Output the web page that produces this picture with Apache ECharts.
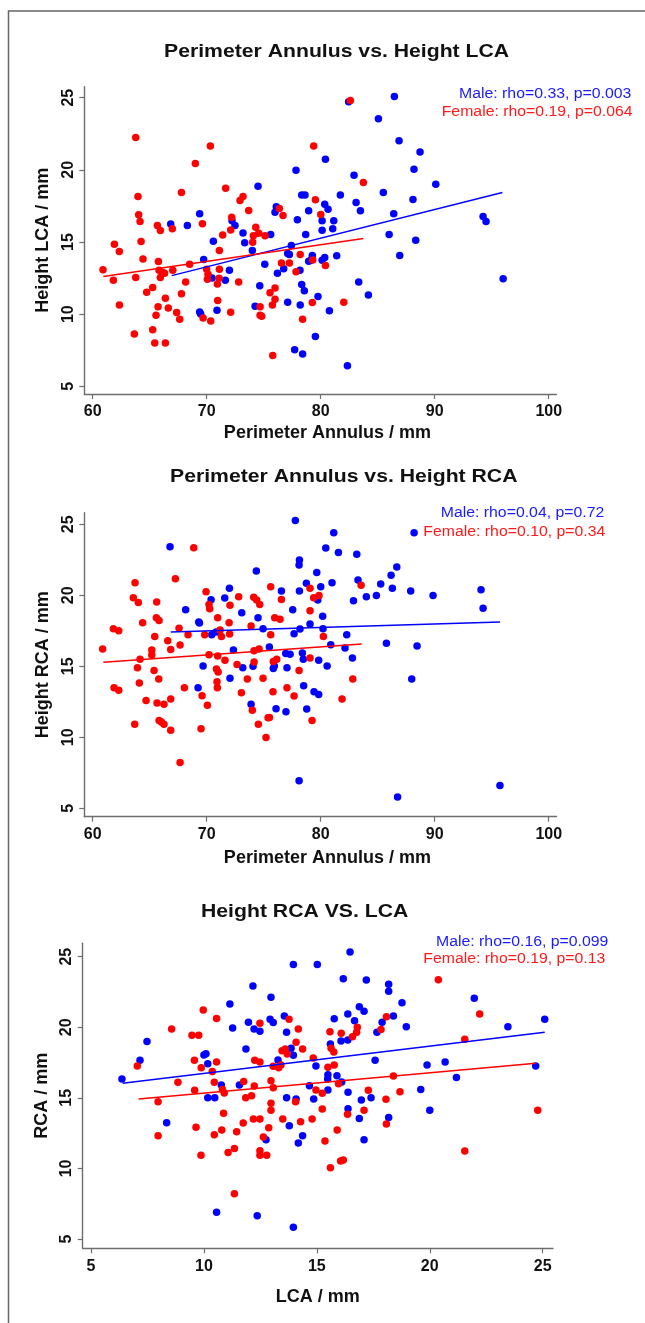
<!DOCTYPE html>
<html><head><meta charset="utf-8">
<script src="https://cdn.jsdelivr.net/npm/echarts@6/dist/echarts.min.js"></script>
<style>html,body{margin:0;padding:0;background:#fff}#c{width:645px;height:1323px}</style>
</head><body><div id="c"></div>
<script>
// ---------- DATA ----------
const titles = ['Perimeter Annulus vs. Height LCA', 'Perimeter Annulus vs. Height RCA', 'Height RCA VS. LCA'];
const xNames = ['Perimeter Annulus / mm', 'Perimeter Annulus / mm', 'LCA / mm'];
const yNames = ['Height LCA / mm', 'Height RCA / mm', 'RCA / mm'];
const xTicksPA = [60, 70, 80, 90, 100];
const xTicksLCA = [5, 10, 15, 20, 25];
const yTicks = [5, 10, 15, 20, 25];
const maleStats = ['Male: rho=0.33, p=0.003', 'Male: rho=0.04, p=0.72', 'Male: rho=0.16, p=0.099'];
const femaleStats = ['Female: rho=0.19, p=0.064', 'Female: rho=0.10, p=0.34', 'Female: rho=0.19, p=0.13'];

// Panel 1: Perimeter Annulus (x) vs Height LCA (y)
const p1Male = [[77.83,19.97],[74.5,18.86],[78.33,18.26],[78.62,18.26],[76.1,17.45],[75.99,17.07],[78.94,17.17],[69.38,16.96],[66.84,16.24],[68.3,16.14],[72.22,16.47],[72.48,16.14],[77.95,16.54],[73.18,15.63],[70.58,15.05],[73.33,14.94],[75.61,15.52],[78.68,15.52],[74.0,14.41],[77.42,14.75],[77.1,14.2],[77.25,14.13],[79.26,14.06],[78.94,13.66],[79.15,13.76],[69.73,13.79],[75.09,13.46],[71.99,13.05],[76.75,13.14],[76.2,12.84],[78.18,13.05],[70.46,12.51],[71.63,12.35],[74.65,11.96],[78.33,12.05],[78.56,11.63],[77.1,10.82],[78.2,10.64],[74.24,10.55],[70.9,10.27],[69.38,10.15],[69.47,10.01],[79.76,11.22],[79.53,8.45],[77.71,7.54],[78.41,7.24],
[82.45,24.72],[86.46,25.09],[85.06,23.54],[86.87,22.02],[88.71,21.23],[80.41,20.74],[88.18,20.05],[82.92,19.63],[90.09,19.01],[85.49,18.43],[81.72,18.25],[88.09,17.94],[83.1,17.74],[80.35,17.62],[80.64,17.27],[83.48,17.16],[86.4,16.95],[80.12,16.47],[81.14,16.47],[81.05,15.91],[80.12,15.82],[94.24,16.77],[94.5,16.42],[86.0,15.52],[88.33,15.12],[86.93,14.06],[81.4,14.04],[80.12,13.74],[80.35,13.92],[83.33,12.23],[96.0,12.46],[84.18,11.33],[80.76,10.24],[82.34,6.43]];
const p1Female = [[63.77,22.25],[70.32,21.65],[69.0,20.44],[71.66,18.73],[67.78,18.43],[63.97,18.16],[73.18,18.16],[72.92,17.88],[73.68,17.19],[64.03,16.89],[64.15,16.42],[72.19,16.72],[69.62,16.26],[65.67,16.14],[65.93,15.8],[66.98,15.91],[71.4,15.49],[72.1,15.84],[74.3,16.03],[74.09,15.43],[74.56,15.61],[75.11,15.43],[61.9,14.85],[64.24,15.03],[62.33,14.34],[74.03,14.99],[71.11,14.41],[64.41,13.83],[65.76,13.65],[68.5,13.46],[60.9,13.07],[65.82,13.05],[66.14,12.88],[67.02,13.05],[65.93,12.54],[66.3,12.84],[61.81,12.35],[63.77,12.54],[69.99,13.11],[70.11,12.77],[71.11,13.11],[70.06,12.42],[70.93,12.09],[71.08,12.49],[72.8,12.23],[68.15,12.23],[65.26,11.84],[64.73,11.52],[67.78,11.42],[66.37,11.1],[65.73,10.52],[65.55,9.92],[66.63,10.43],[67.36,10.11],[67.63,9.64],[70.96,10.94],[72.1,10.13],[62.34,10.64],[69.68,9.73],[70.35,9.52],[76.55,13.55],[77.25,13.55],[75.55,11.49],[75.99,11.81],[75.99,11.03],[75.76,10.64],[74.68,10.52],[74.68,9.92],[74.82,9.85],[78.2,14.13],[77.83,12.93],[79.26,10.8],[78.41,9.64],[65.26,8.92],[63.65,8.62],[65.44,8.0],[66.37,8.0],[75.79,7.14],[76.37,17.33],[76.69,16.84],[79.38,21.65],[79.53,17.93],
[82.6,24.81],[83.74,19.12],[80.0,16.9],[79.3,13.76],[80.41,13.37],[82.02,10.82]];
const p1MaleFit = [[66.93,12.67],[95.93,18.43]];
const p1FemaleFit = [[60.93,12.61],[83.74,15.24]];

// Panel 2: Perimeter Annulus (x) vs Height RCA (y)
const p2Male = [[77.77,25.26],[66.78,23.42],[74.35,21.71],[78.13,22.49],[78.1,22.13],[79.65,21.6],[78.74,20.84],[71.99,20.49],[76.55,20.3],[78.13,20.3],[70.38,19.69],[71.58,19.81],[79.74,19.67],[68.15,18.98],[73.07,18.77],[74.5,18.42],[77.54,18.98],[69.3,18.12],[69.36,18.05],[74.94,17.65],[78.18,17.63],[79.06,17.98],[70.44,17.22],[70.82,17.42],[77.66,17.29],[72.34,16.15],[75.49,16.36],[76.93,15.91],[77.31,15.84],[78.39,15.93],[78.47,15.49],[79.82,15.42],[69.68,15.02],[73.16,14.9],[74.06,15.0],[75.84,14.84],[75.93,15.02],[77.04,14.9],[72.04,14.15],[69.24,13.49],[78.5,13.63],[79.41,13.21],[79.82,13.02],[73.89,12.32],[76.08,12.01],[76.95,11.8],[78.77,11.99],[78.1,6.94],
[81.14,24.41],[88.19,24.41],[80.44,23.33],[81.55,23.02],[83.16,22.89],[86.67,21.99],[86.17,21.42],[80.0,20.6],[80.99,20.89],[83.27,21.08],[85.26,20.8],[86.28,20.49],[87.89,20.3],[84.0,19.9],[84.88,19.99],[89.85,19.99],[94.06,20.39],[94.24,19.08],[82.87,19.62],[80.17,18.52],[80.2,17.65],[82.28,17.23],[80.88,16.52],[82.13,16.29],[85.76,16.62],[88.45,16.43],[80.56,15.02],[82.78,15.58],[87.98,14.1],[86.74,5.8],[95.72,6.61]];
const p2Female = [[68.86,23.35],[67.25,21.17],[63.71,20.89],[69.94,20.25],[63.56,19.83],[64.0,19.5],[65.61,19.53],[75.61,20.6],[74.12,19.87],[74.38,19.67],[74.65,19.36],[72.8,19.9],[76.55,19.71],[72.04,19.3],[70.2,19.36],[70.26,19.06],[79.06,20.49],[79.38,19.83],[79.06,18.92],[65.58,18.42],[65.82,18.22],[64.38,18.07],[70.96,18.42],[71.96,18.07],[75.96,18.42],[76.43,18.31],[61.81,17.65],[62.28,17.51],[67.57,17.68],[68.36,17.23],[69.82,17.23],[71.17,17.56],[71.29,17.09],[72.01,17.27],[65.44,17.09],[73.89,17.84],[75.61,17.23],[66.58,16.8],[67.66,16.5],[66.84,16.19],[60.87,16.22],[65.18,16.15],[65.18,15.8],[64.15,15.49],[70.2,15.82],[70.96,15.73],[71.6,15.42],[72.66,15.13],[74.15,16.1],[74.59,16.21],[74.15,15.3],[75.84,15.33],[76.14,15.49],[79.06,15.59],[63.92,14.9],[65.38,14.71],[65.79,14.1],[64.09,13.82],[70.85,14.81],[71.0,14.6],[70.9,13.91],[70.93,13.49],[73.56,14.1],[74.94,14.15],[78.1,14.71],[61.87,13.49],[62.28,13.31],[68.04,13.49],[69.59,12.93],[70.06,12.25],[73.04,13.14],[75.81,13.21],[77.04,13.49],[77.66,12.91],[64.68,12.6],[65.64,12.41],[66.25,12.32],[66.84,12.7],[74.0,11.9],[75.38,11.38],[75.5,11.4],[74.53,10.91],[79.24,11.19],[63.68,10.91],[65.82,11.19],[66.02,11.08],[66.25,10.91],[66.84,10.49],[69.5,10.6],[75.2,9.99],[67.66,8.23],
[79.85,19.98],[83.54,20.71],[80.23,17.09],[82.81,14.1],[81.87,12.7]];
const p2MaleFit = [[66.84,17.42],[95.72,18.12]];
const p2FemaleFit = [[60.93,15.28],[83.59,16.57]];

// Panel 3: LCA (x) vs RCA (y)
const p3Male = [[13.96,24.44],[15.02,24.44],[12.17,22.92],[12.97,22.12],[11.15,21.65],[13.56,20.8],[11.27,19.95],[11.97,20.35],[12.22,19.88],[12.48,19.71],[12.93,20.56],[13.07,20.33],[13.66,19.64],[7.48,19.0],[11.86,18.46],[13.86,18.51],[13.96,18.01],[7.17,17.66],[10.0,18.04],[10.09,18.13],[10.17,17.42],[13.28,17.68],[14.96,17.26],[6.37,16.34],[10.77,15.91],[11.57,15.91],[14.67,15.86],[10.17,15.01],[10.48,15.01],[13.66,15.01],[14.08,14.92],[14.86,14.92],[8.35,13.24],[13.78,13.03],[14.37,12.32],[14.18,11.8],[12.75,12.04],[10.56,6.89],[12.36,6.65],[13.96,5.83],
[16.47,25.33],[16.17,23.44],[17.19,23.35],[18.18,23.04],[18.18,22.55],[18.77,21.74],[21.97,22.05],[15.77,20.61],[16.67,20.47],[16.88,21.46],[17.09,21.13],[16.37,20.94],[17.89,20.35],[18.39,20.8],[18.96,20.04],[17.66,19.64],[23.46,20.04],[25.09,20.56],[16.07,19.03],[16.37,19.1],[15.6,18.82],[17.58,17.66],[19.88,17.33],[20.68,17.54],[24.69,17.26],[15.49,16.64],[15.48,16.34],[15.89,16.57],[16.1,16.12],[21.18,16.45],[15.49,15.56],[16.38,15.39],[19.6,15.6],[16.97,14.85],[17.4,15.01],[16.38,14.23],[20.0,14.12],[16.88,13.53],[18.18,13.6],[17.09,12.04]];
const p3Female = [[9.97,21.22],[10.56,20.63],[8.57,19.88],[9.47,19.43],[9.77,19.43],[12.48,20.28],[13.77,20.56],[14.18,19.88],[14.08,18.93],[14.37,18.46],[13.46,18.34],[13.6,18.46],[13.69,18.11],[9.58,17.66],[9.88,17.14],[10.37,16.86],[10.56,17.54],[12.25,17.66],[12.48,17.54],[13.07,17.23],[13.31,17.14],[13.41,17.33],[14.84,17.82],[7.05,17.26],[8.85,16.1],[9.59,15.53],[10.46,16.1],[10.9,15.34],[10.82,15.6],[11.76,16.15],[12.23,15.84],[12.97,16.22],[13.07,15.72],[11.85,15.01],[12.11,15.15],[14.06,14.73],[14.96,15.56],[7.97,14.73],[10.87,13.9],[12.97,14.61],[12.97,14.12],[11.74,13.22],[12.19,13.5],[12.48,13.5],[13.49,13.5],[14.28,13.31],[14.79,13.5],[9.65,12.91],[7.97,12.32],[10.46,12.39],[10.79,12.72],[11.45,12.6],[12.87,12.89],[12.63,12.23],[9.87,10.93],[11.07,11.12],[11.35,11.42],[12.48,11.26],[12.48,10.93],[12.78,10.93],[11.35,8.21],
[20.38,23.37],[22.21,20.94],[18.08,20.75],[15.58,19.69],[16.08,19.57],[16.58,19.33],[16.76,19.64],[16.79,20.0],[17.84,19.85],[15.63,18.51],[15.75,18.25],[21.55,19.15],[15.49,17.16],[15.77,17.33],[15.96,16.0],[18.39,16.55],[15.24,15.32],[17.28,15.53],[18.68,15.44],[18.06,14.9],[15.24,14.21],[16.36,13.83],[17.09,14.12],[18.08,13.15],[24.78,14.12],[15.9,12.72],[15.36,11.94],[16.05,10.53],[16.17,10.6],[15.6,10.05],[21.55,11.23]];
const p3MaleFit = [[6.4,16.03],[25.09,19.64]];
const p3FemaleFit = [[7.11,14.92],[24.7,17.45]];

// ---------- LAYOUT / STYLE ----------
const FONT = '"Liberation Sans", Arial, Helvetica, sans-serif';
const BLUE = '#0000ff', RED = '#ff0000', AXIS = '#6e6e6e', TXT = '#111111';
const grids = [
  {left: 84.3, top: 86.7, width: 472.2, height: 307.3},
  {left: 84.3, top: 512.7, width: 472.2, height: 304.0},
  {left: 82.7, top: 943.3, width: 470.3, height: 305.0}
];
const xRanges = [[59.26, 100.68], [59.26, 100.68], [4.633, 25.456]];
const yRanges = [[4.466, 25.763], [4.408, 25.817], [4.341, 25.949]];
const xTickSets = [xTicksPA, xTicksPA, xTicksLCA];
const xNameGaps = [30, 32, 40];
const xNameShift = [14, 14, 0];
const titleY = [52, 477, 912];
const titleX = [164, 170, 201];
const statY = [[94, 112.3], [513.3, 532.3], [941.7, 959.3]];
const statX = [[459, 441.7], [440.7, 423.3], [436, 423.3]];

const xAxis = [], yAxis = [], series = [], graphic = [];
const maleSets = [p1Male, p2Male, p3Male], femaleSets = [p1Female, p2Female, p3Female];
const maleFits = [p1MaleFit, p2MaleFit, p3MaleFit], femaleFits = [p1FemaleFit, p2FemaleFit, p3FemaleFit];

for (let i = 0; i < 3; i++) {
  xAxis.push({
    gridIndex: i, type: 'value', min: xRanges[i][0], max: xRanges[i][1],
    axisLine: {show: true, onZero: false, lineStyle: {color: AXIS, width: 1.4}},
    axisTick: {show: true, customValues: xTickSets[i], length: 5, lineStyle: {color: AXIS, width: 1.2}},
    axisLabel: {customValues: xTickSets[i], margin: 10, fontSize: 16, fontWeight: 'bold', color: TXT, fontFamily: FONT},
    splitLine: {show: false},
    name: xNames[i], nameLocation: 'middle', nameGap: xNameGaps[i],
    nameTextStyle: {fontSize: 18, fontWeight: 'bold', color: TXT, fontFamily: FONT, padding: [0, 0, 0, xNameShift[i]]}
  });
  yAxis.push({
    gridIndex: i, type: 'value', min: yRanges[i][0], max: yRanges[i][1],
    axisLine: {show: true, onZero: false, lineStyle: {color: AXIS, width: 1.4}},
    axisTick: {show: true, customValues: yTicks, length: 5, lineStyle: {color: AXIS, width: 1.2}},
    axisLabel: {customValues: yTicks, rotate: 90, margin: 8, fontSize: 16, fontWeight: 'bold', color: TXT, fontFamily: FONT},
    splitLine: {show: false},
    name: yNames[i], nameLocation: 'middle', nameGap: 32, nameRotate: 90,
    nameTextStyle: {fontSize: 18, fontWeight: 'bold', color: TXT, fontFamily: FONT}
  });
  series.push({type: 'scatter', xAxisIndex: i, yAxisIndex: i, data: maleSets[i], symbolSize: 7.5,
    itemStyle: {color: BLUE, opacity: 1}, silent: true, z: 3});
  series.push({type: 'scatter', xAxisIndex: i, yAxisIndex: i, data: femaleSets[i], symbolSize: 7.5,
    itemStyle: {color: RED, opacity: 1}, silent: true, z: 3});
  series.push({type: 'line', xAxisIndex: i, yAxisIndex: i, data: maleFits[i], symbol: 'none',
    lineStyle: {color: BLUE, width: 1.5}, silent: true, z: 4});
  series.push({type: 'line', xAxisIndex: i, yAxisIndex: i, data: femaleFits[i], symbol: 'none',
    lineStyle: {color: RED, width: 1.5}, silent: true, z: 4});
  graphic.push({type: 'text', x: titleX[i], y: titleY[i], scaleX: 1.14, style: {text: titles[i], fill: TXT,
    font: 'bold 18.6px ' + FONT, textAlign: 'left', textVerticalAlign: 'middle'}});
  graphic.push({type: 'text', x: statX[i][0], y: statY[i][0], scaleX: 1.13, style: {text: maleStats[i], fill: '#1a1aff',
    font: '14px ' + FONT, textAlign: 'left', textVerticalAlign: 'middle'}});
  graphic.push({type: 'text', x: statX[i][1], y: statY[i][1], scaleX: 1.13, style: {text: femaleStats[i], fill: '#ff1a1a',
    font: '14px ' + FONT, textAlign: 'left', textVerticalAlign: 'middle'}});
}
// page frame (left and top edges)
graphic.push({type: 'polyline', shape: {points: [[8.5, 1323], [8.5, 11], [645, 11]]},
  style: {stroke: '#666', lineWidth: 1.5, fill: null}, silent: true});

const chart = echarts.init(document.getElementById('c'), null, {renderer: 'canvas'});
chart.setOption({
  animation: false,
  backgroundColor: '#ffffff',
  grid: grids,
  xAxis, yAxis, series, graphic
});
</script></body></html>
